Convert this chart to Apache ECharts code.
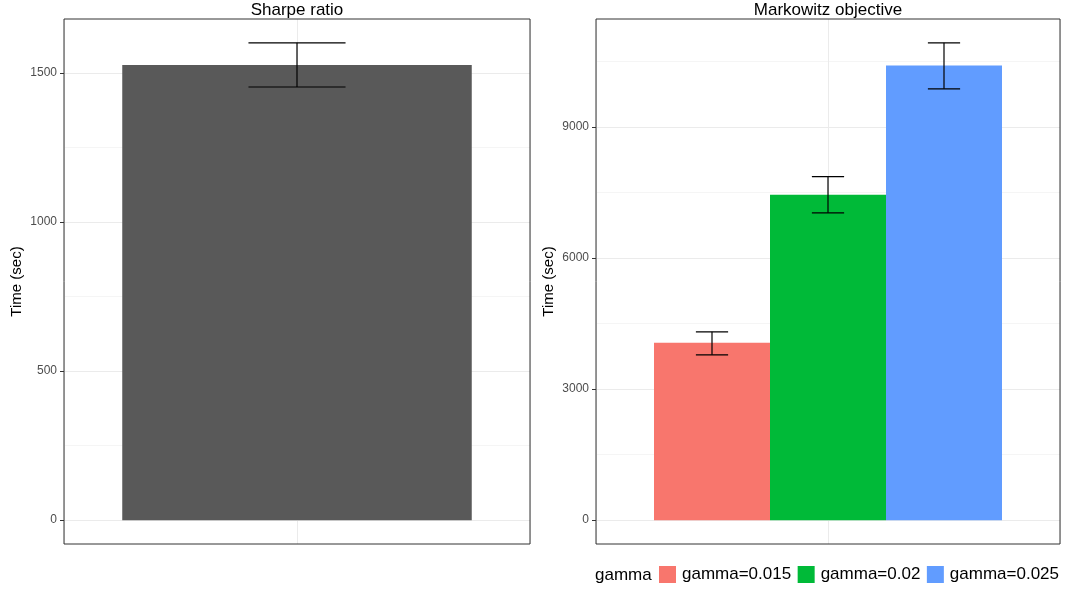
<!DOCTYPE html>
<html>
<head>
<meta charset="utf-8">
<script src="https://cdn.jsdelivr.net/npm/echarts@6/dist/echarts.min.js"></script>
<style>
html,body{margin:0;padding:0;background:#fff;}
#chart{width:1067px;height:590px;}
</style>
</head>
<body>
<div id="chart"></div>
<script>
// ---- data ----
const leftTitle = 'Sharpe ratio';
const rightTitle = 'Markowitz objective';
const yAxisTitle = 'Time (sec)';
const legendTitle = 'gamma';

const sharpeMean = [1527];
const sharpeLo = [1453];
const sharpeHi = [1601];

const gammaNames = ['gamma=0.015', 'gamma=0.02', 'gamma=0.025'];
const markowitzMean = [4057, 7444, 10403];
const markowitzLo = [3783, 7032, 9870];
const markowitzHi = [4309, 7863, 10922];
const gammaColors = ['#F8766D', '#00BA38', '#619CFF'];

const leftTicks = [0, 500, 1000, 1500];
const rightTicks = [0, 3000, 6000, 9000];

// ---- chart ----
const FONT = '"Liberation Sans", Arial, sans-serif';
const chart = echarts.init(document.getElementById('chart'), null, {renderer: 'canvas'});

function expanded(hiArr) {
  const mx = Math.max.apply(null, hiArr);
  const pad = mx * 0.05;
  return [-pad, mx + pad];
}
const leftRange = expanded(sharpeHi);
const rightRange = expanded(markowitzHi);

function yAxisDef(gridIndex, range, ticks) {
  const step = ticks[1] - ticks[0];
  return {
    type: 'value', gridIndex: gridIndex,
    min: range[0], max: range[1],
    minInterval: step, maxInterval: step, splitNumber: 4,
    name: yAxisTitle, nameLocation: 'middle', nameGap: 40,
    nameTextStyle: {fontSize: 15, color: '#000', fontFamily: FONT},
    axisLine: {show: false, onZero: false},
    axisTick: {show: true, length: 4, customValues: ticks, lineStyle: {color: '#333333', width: 1}},
    axisLabel: {
      show: true, margin: 7, fontSize: 12, color: '#4D4D4D', fontFamily: FONT,
      customValues: ticks,
      formatter: function (v) { return (Math.abs(v % step) < 1e-6) ? String(v) : ''; }
    },
    splitLine: {show: true, lineStyle: {color: '#EBEBEB', width: 1}},
    minorTick: {show: false, splitNumber: 2},
    minorSplitLine: {show: true, lineStyle: {color: '#EBEBEB', width: 0.5}}
  };
}
function catAxisDef(gridIndex) {
  return {
    type: 'category', gridIndex: gridIndex, data: [''], boundaryGap: true,
    axisLine: {show: false, onZero: false}, axisTick: {show: false}, axisLabel: {show: false},
    splitLine: {show: false}
  };
}
function gridLineAxisDef(gridIndex) {
  return {
    type: 'value', gridIndex: gridIndex, min: -1, max: 1, interval: 1,
    axisLine: {show: false, onZero: false}, axisTick: {show: false}, axisLabel: {show: false},
    splitLine: {show: true, lineStyle: {color: '#EBEBEB', width: 1}}
  };
}

function errorBarSeries(name, xAxisIndex, yAxisIndex, lo, hi, nGroups) {
  const data = lo.map(function (l, i) { return [0, l, hi[i], i]; });
  return {
    type: 'custom', name: name + '_err', xAxisIndex: xAxisIndex, yAxisIndex: yAxisIndex, z: 10,
    silent: true, legendHoverLink: false,
    encode: {x: 0, y: [1, 2]},
    data: data,
    renderItem: function (params, api) {
      const g = api.value(3);
      const bw = api.size([1, 0])[0];
      const barW = bw * 0.75 / nGroups;
      const off = (g - (nGroups - 1) / 2) * barW;
      const pHi = api.coord([0, api.value(2)]);
      const pLo = api.coord([0, api.value(1)]);
      const cx = pHi[0] + off;
      const capHalf = bw * (0.25 / 1.2) / nGroups / 2;
      const st = {stroke: '#000', lineWidth: 1.2, fill: null};
      return {
        type: 'group',
        children: [
          {type: 'line', shape: {x1: cx, y1: pHi[1], x2: cx, y2: pLo[1]}, style: st},
          {type: 'line', shape: {x1: cx - capHalf, y1: pHi[1], x2: cx + capHalf, y2: pHi[1]}, style: st},
          {type: 'line', shape: {x1: cx - capHalf, y1: pLo[1], x2: cx + capHalf, y2: pLo[1]}, style: st}
        ]
      };
    }
  };
}

const series = [];
series.push({
  type: 'bar', name: 'sharpe', xAxisIndex: 0, yAxisIndex: 0,
  data: sharpeMean, barWidth: '75%', itemStyle: {color: '#595959'}, z: 3
});
series.push(errorBarSeries('sharpe', 0, 0, sharpeLo, sharpeHi, 1));
gammaNames.forEach(function (nm, i) {
  series.push({
    type: 'bar', name: nm, xAxisIndex: 2, yAxisIndex: 1,
    data: [markowitzMean[i]], barWidth: '25%', barGap: '0%',
    itemStyle: {color: gammaColors[i]}, z: 3
  });
});
series.push(errorBarSeries('markowitz', 2, 1, markowitzLo, markowitzHi, gammaNames.length));

const option = {
  animation: false,
  backgroundColor: '#ffffff',
  textStyle: {fontFamily: FONT},
  grid: [
    {left: 64, right: 1067 - 530, top: 19, bottom: 590 - 544, show: true, borderColor: '#333333', borderWidth: 1, backgroundColor: 'transparent', z: 5},
    {left: 596, right: 7, top: 19, bottom: 590 - 544, show: true, borderColor: '#333333', borderWidth: 1, backgroundColor: 'transparent', z: 5}
  ],
  xAxis: [catAxisDef(0), gridLineAxisDef(0), catAxisDef(1), gridLineAxisDef(1)],
  yAxis: [yAxisDef(0, leftRange, leftTicks), yAxisDef(1, rightRange, rightTicks)],
  legend: {
    data: gammaNames, left: 659, top: 566, orient: 'horizontal',
    itemWidth: 17, itemHeight: 17, itemGap: 6.5, icon: 'rect', padding: 0,
    selectedMode: false,
    textStyle: {fontSize: 17, color: '#000', fontFamily: FONT, padding: [0, 0, 0, 1]}
  },
  graphic: [
    {type: 'text', x: 297, y: 10, silent: true,
      style: {text: leftTitle, align: 'center', verticalAlign: 'middle', fontSize: 17, fontFamily: FONT, fill: '#000'}},
    {type: 'text', x: 828, y: 10, silent: true,
      style: {text: rightTitle, align: 'center', verticalAlign: 'middle', fontSize: 17, fontFamily: FONT, fill: '#000'}},
    {type: 'text', x: 595, y: 575, silent: true,
      style: {text: legendTitle, align: 'left', verticalAlign: 'middle', fontSize: 17, fontFamily: FONT, fill: '#000'}}
  ],
  series: series
};
chart.setOption(option);
</script>
</body>
</html>
